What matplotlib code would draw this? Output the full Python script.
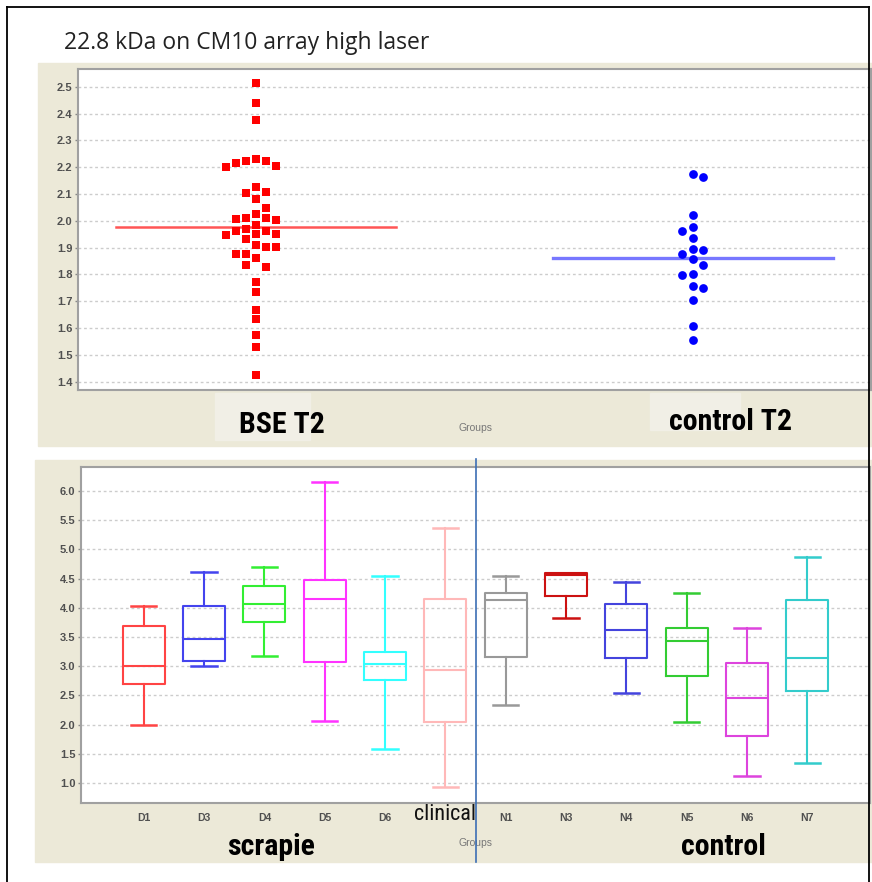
import numpy as np
import matplotlib
matplotlib.use("Agg")
import matplotlib.pyplot as plt
import matplotlib.transforms as mtransforms
from matplotlib.patches import Rectangle
from matplotlib.lines import Line2D
from matplotlib import font_manager

# ---------------- data ----------------
title = "22.8 kDa on CM10 array high laser"

top_groups = ["BSE T2", "control T2"]
bse_values = [2.515, 2.44, 2.376, 2.229, 2.224, 2.224, 2.214, 2.204, 2.202,
              2.125, 2.108, 2.102, 2.080, 2.049, 2.024, 2.010, 2.009, 2.008,
              2.004, 1.984, 1.968, 1.962, 1.962, 1.951, 1.949, 1.947, 1.932,
              1.908, 1.903, 1.901, 1.878, 1.876, 1.860, 1.835, 1.829, 1.770,
              1.733, 1.667, 1.634, 1.574, 1.530, 1.426]
control_values = [2.175, 2.165, 2.020, 1.975, 1.963, 1.935, 1.895, 1.892,
                  1.877, 1.856, 1.836, 1.802, 1.796, 1.756, 1.749, 1.706,
                  1.607, 1.556]
bse_mean_line = 1.978
control_mean_line = 1.862
top_yticks = [1.4, 1.5, 1.6, 1.7, 1.8, 1.9, 2.0, 2.1, 2.2, 2.3, 2.4, 2.5]

box_labels = ["D1", "D3", "D4", "D5", "D6", "clinical", "N1", "N3", "N4", "N5", "N6", "N7"]
box_whislo = [1.99, 3.00, 3.18, 2.07, 1.59, 0.93, 2.34, 3.82, 2.54, 2.04, 1.13, 1.35]
box_q1     = [2.69, 3.09, 3.75, 3.07, 2.77, 2.04, 3.16, 4.20, 3.14, 2.83, 1.81, 2.57]
box_med    = [3.00, 3.46, 4.07, 4.15, 3.04, 2.93, 4.14, 4.57, 3.62, 3.43, 2.46, 3.14]
box_q3     = [3.69, 4.03, 4.37, 4.47, 3.24, 4.15, 4.25, 4.59, 4.06, 3.66, 3.06, 4.13]
box_whishi = [4.03, 4.62, 4.70, 6.15, 4.54, 5.37, 4.54, 4.60, 4.45, 4.25, 3.65, 4.87]
box_colors = ["#FF4444", "#4444EE", "#33EE33", "#FF33FF", "#33FFFF", "#FFB8B8",
              "#999999", "#CC1111", "#4444DD", "#33CC33", "#DD44DD", "#33CCCC"]
bottom_yticks = [1.0, 1.5, 2.0, 2.5, 3.0, 3.5, 4.0, 4.5, 5.0, 5.5, 6.0]

# ---------------- fonts ----------------
available = {f.name for f in font_manager.fontManager.ttflist}
def pick(*names):
    for n in names:
        if n in available:
            return n
    return "DejaVu Sans"
narrow = pick("Liberation Sans Narrow", "DejaVu Sans Condensed", "Roboto Condensed", "DejaVu Sans")
title_font = pick("Open Sans", "Lato", "DejaVu Sans")
tick_font = pick("Liberation Sans", "DejaVu Sans")

W, H = 872, 882
fig = plt.figure(figsize=(W / 100, H / 100), dpi=100)
fig.patch.set_facecolor("white")

def fx(px):
    return px / W
def fy(py):
    return 1 - py / H

BEIGE = "#ECE9D8"
fig.patches.append(Rectangle((fx(38), fy(446)), (872 - 38) / W, (446 - 63) / H,
                             transform=fig.transFigure, color=BEIGE, zorder=-2))
fig.patches.append(Rectangle((fx(35), fy(862)), (872 - 35) / W, (862 - 460) / H,
                             transform=fig.transFigure, color=BEIGE, zorder=-2))
# lighter patches behind group labels
fig.patches.append(Rectangle((fx(215), fy(440)), 95 / W, 47 / H,
                             transform=fig.transFigure, color="#F1EFE6", zorder=-1))
fig.patches.append(Rectangle((fx(650), fy(430)), 90 / W, 37 / H,
                             transform=fig.transFigure, color="#F1EFE6", zorder=-1))

# outer frame lines
for (x0, y0, x1, y1) in [(7, 7, 869, 7), (7, 7, 7, 882), (869, 7, 869, 882)]:
    fig.add_artist(Line2D([fx(x0), fx(x1)], [fy(y0), fy(y1)], transform=fig.transFigure,
                          color="black", lw=1.3, zorder=5))

fig.text(fx(64), fy(43), title, fontsize=16.5, family=title_font, color="#222222",
         ha="left", va="center")

def style_axes(ax):
    for s in ax.spines.values():
        s.set_color("#A0A0A0")
        s.set_linewidth(1.5)
    ax.set_facecolor("white")
    ax.grid(axis="y", color="#CCCCCC", linestyle=(0, (2, 2)), linewidth=1)
    ax.set_axisbelow(True)
    ax.tick_params(axis="y", length=2, width=1, color="#888888", pad=2,
                   labelsize=8, labelcolor="#505050")
    for lab in ax.get_yticklabels():
        lab.set_fontweight("bold")
        lab.set_family(tick_font)

# ---------------- top panel ----------------
ax1 = fig.add_axes([fx(78), fy(390), (871 - 78) / W, (390 - 69) / H])
ax1.set_xlim(-0.408, 1.408)
ax1.set_ylim(1.369, 2.566)
ax1.set_yticks(top_yticks)
ax1.set_yticklabels([f"{v:.1f}" for v in top_yticks])
ax1.set_xticks([])
style_axes(ax1)

px_per_unit_top = (390 - 69) / (2.566 - 1.369)
px_per_xunit_top = (871 - 78) / (1.408 + 0.408)

def swarm(values, sep_px, first_side):
    """Simple beeswarm: place each value in the nearest free column,
    alternating which side is tried first."""
    vals = np.asarray(values, dtype=float)
    order = np.argsort(-vals, kind="stable")
    placed = {}
    cols = np.zeros(len(vals))
    side = first_side
    for i in order:
        y = vals[i] * px_per_unit_top
        cands = [0]
        for m in range(1, 8):
            cands += [side * m, -side * m]
        for k in cands:
            if all(abs(y - yy) >= sep_px for yy in placed.get(k, [])):
                placed.setdefault(k, []).append(y)
                cols[i] = k
                if k != 0:
                    side = -side
                break
    return cols

bse_cols = swarm(bse_values, 8.6, -1)
ctl_cols = swarm(control_values, 10.0, 1)

ax1.plot(0 + bse_cols * 10 / px_per_xunit_top, bse_values, "s", color="#FF0000",
         markersize=5.6, markeredgewidth=0, zorder=3)
ax1.plot(1 + ctl_cols * 10.5 / px_per_xunit_top, control_values, "o", color="#0000FF",
         markersize=6.3, markeredgewidth=0, zorder=3)
ax1.plot([-0.32, 0.32], [bse_mean_line] * 2, color="#FF5555", lw=1.8, zorder=2)
ax1.plot([0.68, 1.32], [control_mean_line] * 2, color="#7777FF", lw=2.4, zorder=2)

fig.text(fx(282), fy(425), top_groups[0], ha="center", va="center", fontsize=21.5,
         fontweight="bold", family=narrow, color="black")
fig.text(fx(731), fy(422), top_groups[1], ha="center", va="center", fontsize=21.5,
         fontweight="bold", family=narrow, color="black")
fig.text(fx(475), fy(428), "Groups", ha="center", va="center", fontsize=7.5,
         family=tick_font, color="#777777")

# ---------------- bottom panel ----------------
ax2 = fig.add_axes([fx(81), fy(803), (870 - 81) / W, (803 - 467) / H])
ax2.set_xlim(-1.04, 12.04)
ax2.set_ylim(0.66, 6.41)
ax2.set_yticks(bottom_yticks)
ax2.set_yticklabels([f"{v:.1f}" for v in bottom_yticks])
style_axes(ax2)

positions = np.arange(len(box_labels))
stats = []
for i in range(len(box_labels)):
    stats.append(dict(label=box_labels[i], whislo=box_whislo[i], q1=box_q1[i],
                      med=box_med[i], q3=box_q3[i], whishi=box_whishi[i], fliers=[]))
for i, st in enumerate(stats):
    c = box_colors[i]
    ax2.bxp([st], positions=[positions[i]], widths=0.7, showfliers=False,
            boxprops=dict(color=c, lw=1.5), medianprops=dict(color=c, lw=1.5),
            whiskerprops=dict(color=c, lw=1.5), capprops=dict(color=c, lw=1.8),
            capwidths=0.42, manage_ticks=False)

ax2.set_xticks(positions)
ax2.set_xticklabels(["" if l == "clinical" else l for l in box_labels])
ax2.tick_params(axis="x", length=0, pad=7, labelsize=7.5, labelcolor="#505050")
for lab in ax2.get_xticklabels():
    lab.set_fontweight("bold")
    lab.set_family(tick_font)

ci = box_labels.index("clinical")
trans = mtransforms.blended_transform_factory(ax2.transData, fig.transFigure)
ax2.text(ci, fy(815), "clinical", transform=trans, ha="center", va="center",
         fontsize=16, family=narrow, color="#111111", clip_on=False)

fig.text(fx(271), fy(847), "scrapie", ha="center", va="center", fontsize=21.5,
         fontweight="bold", family=narrow, color="black")
fig.text(fx(723), fy(847), "control", ha="center", va="center", fontsize=21.5,
         fontweight="bold", family=narrow, color="black")
fig.text(fx(475), fy(843), "Groups", ha="center", va="center", fontsize=7.5,
         family=tick_font, color="#777777")

# vertical separator line
fig.add_artist(Line2D([fx(475.5), fx(475.5)], [fy(459), fy(862)], transform=fig.transFigure,
                      color="#3C6EB4", lw=1.2, zorder=6))

fig.savefig("out.png", dpi=100)
